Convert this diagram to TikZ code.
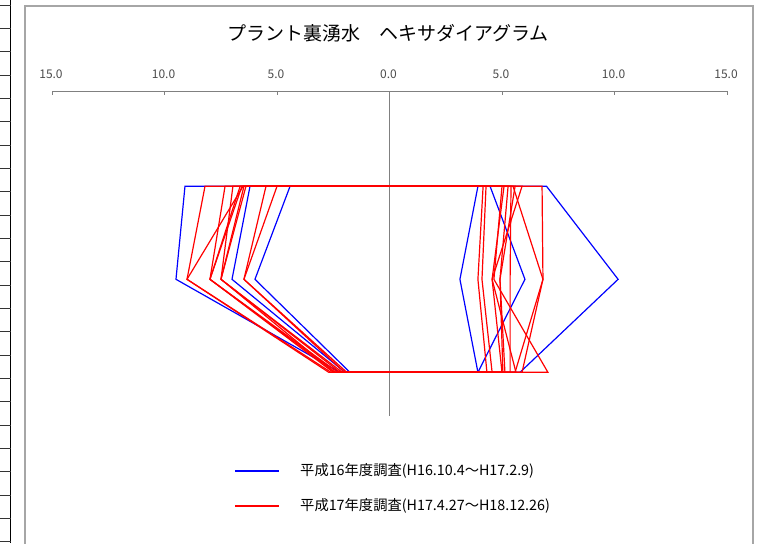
\documentclass[tikz,border=0pt]{standalone}
\usepackage{fontspec}
\setmainfont{Noto Sans CJK JP}
\usepackage{tikz}

\begin{document}
\begin{tikzpicture}[x=1pt,y=-1pt,
  h16/.style={blue,line width=1.2pt},
  h17/.style={red,line width=1.2pt},
  axisline/.style={gray,line width=0.8pt},
  ticklabel/.style={black!70,inner sep=0pt,font=\fontsize{12}{12}\selectfont}]
\useasboundingbox (0,0) rectangle (767,543);

% sheet cells at the left edge
\draw[line width=1.5pt] (10.5,0) -- (10.5,543);
\foreach \i in {0,...,23} \draw[black!80] (0,{5+23.333*\i}) -- (10.5,{5+23.333*\i});

% chart frame
\draw[gray!70,line width=1.2pt] (25,545) -- (25,6) -- (753,6) -- (753,545);

% title
\node (title) at (388,33) {\fontsize{19}{19}\selectfont プラント裏湧水　ヘキサダイアグラム};

% scale
\draw[axisline] (52,91) -- (727,91);
\draw[axisline] (389.5,91) -- (389.5,416);
\foreach \v [count=\k] in {15.0,10.0,5.0,0.0,5.0,10.0,15.0} {
  \draw[axisline] ({52+112.5*(\k-1)},91) -- ({52+112.5*(\k-1)},95);
  \node[ticklabel] (tick\k) at ({51+112.5*(\k-1)},74) {\v};
}

% hexadiagrams: Na, Ca, Mg (left) / Cl, HCO3, SO4 (right)
\begin{scope}[shift={(389.5,279.3)},x=22.5pt,y=93pt]
\foreach \na/\ca/\mg/\cl/\hc/\so in {9.09/9.49/2.2/6.98/10.16/5.8,
    6.2/7.0/1.98/4.47/6.02/3.93, 4.42/5.98/1.76/3.93/3.13/3.93}
  \draw[h16] (-\na,1) -- (\cl,1) -- (\hc,0) -- (\so,-1) -- (-\mg,-1) -- (-\ca,0) -- cycle;
\foreach \na/\ca/\mg/\cl/\hc/\so in {8.2/9.0/2.7/6.78/6.82/5.89,
    6.51/9.0/2.6/5.49/6.82/5.58, 7.31/7.98/2.5/5.0/4.64/7.04,
    6.64/7.98/2.4/4.16/3.93/4.33, 6.56/7.98/2.3/4.29/4.11/4.56,
    6.96/7.49/2.2/5.09/4.56/5.0, 6.38/7.49/2.1/5.27/4.91/5.13,
    5.49/6.47/2.0/5.4/5.36/5.36, 5.0/6.47/1.9/5.58/4.91/5.04,
    6.47/7.49/2.45/5.89/4.56/5.62}
  \draw[h17] (-\na,1) -- (\cl,1) -- (\hc,0) -- (\so,-1) -- (-\mg,-1) -- (-\ca,0) -- cycle;
\end{scope}

% legend
\draw[h16,line width=1.6pt] (235,471) -- (279,471);
\node[right,inner sep=0pt] (leg16) at (300,471) {\fontsize{14.3}{14.3}\selectfont 平成16年度調査(H16.10.4～H17.2.9)};
\draw[h17,line width=1.6pt] (235,506) -- (279,506);
\node[right,inner sep=0pt] (leg17) at (300,506) {\fontsize{14.3}{14.3}\selectfont 平成17年度調査(H17.4.27～H18.12.26)};
\end{tikzpicture}
\end{document}
